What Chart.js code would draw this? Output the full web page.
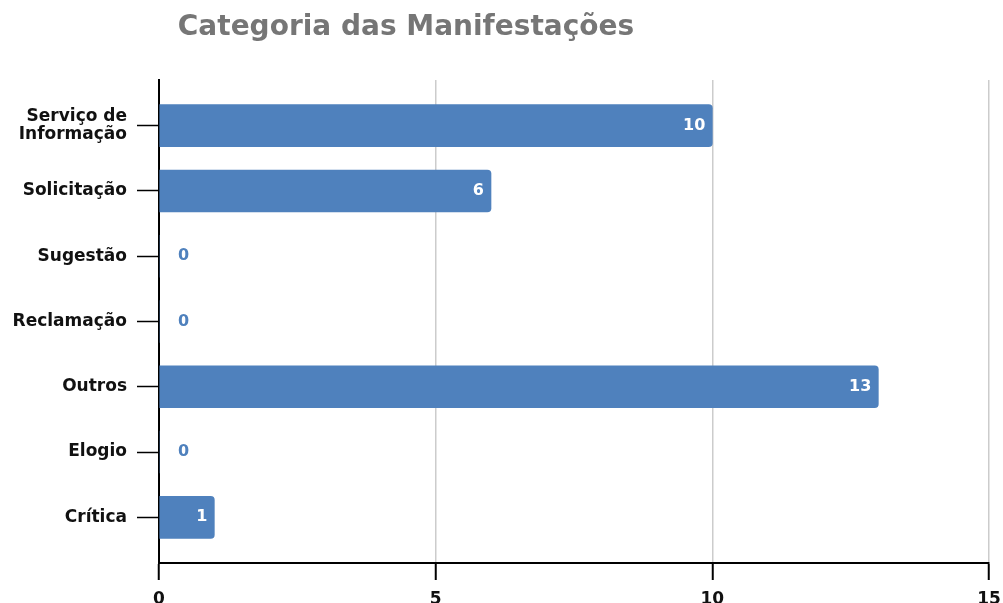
<!DOCTYPE html>
<html>
<head>
<meta charset="utf-8">
<script src="https://cdn.jsdelivr.net/npm/chart.js@4"></script>
<style>
  html, body { margin: 0; padding: 0; background: #ffffff; }
  #wrap { width: 1003px; height: 603px; position: relative; }
</style>
</head>
<body>
<div id="wrap"><canvas id="c"></canvas></div>
<script>
const chartTitle = 'Categoria das Manifestações';
const categories = [['Serviço de', 'Informação'], 'Solicitação', 'Sugestão', 'Reclamação', 'Outros', 'Elogio', 'Crítica'];
const values = [10, 6, 0, 0, 13, 0, 1];
const xTicks = [0, 5, 10, 15];

const FONT = '"DejaVu Sans", Verdana, sans-serif';
const BLUE = '#4f81bd';

const titlePlugin = {
  id: 'customTitle',
  afterDraw(chart) {
    const ctx = chart.ctx;
    ctx.save();
    ctx.font = 'bold 28px ' + FONT;
    ctx.fillStyle = '#767676';
    ctx.textAlign = 'center';
    ctx.textBaseline = 'middle';
    ctx.fillText(chartTitle, 406, 28);
    ctx.restore();
  }
};

const valueLabels = {
  id: 'valueLabels',
  afterDatasetsDraw(chart) {
    const ctx = chart.ctx;
    const meta = chart.getDatasetMeta(0);
    ctx.save();
    ctx.font = 'bold 16px ' + FONT;
    ctx.textBaseline = 'middle';
    meta.data.forEach((bar, i) => {
      const v = values[i];
      if (v > 0) {
        ctx.fillStyle = '#ffffff';
        ctx.textAlign = 'right';
        ctx.fillText(String(v), bar.x - 7, bar.y);
      } else {
        ctx.fillStyle = BLUE;
        ctx.textAlign = 'left';
        ctx.fillText(String(v), bar.x + 19, bar.y);
      }
    });
    ctx.restore();
  }
};

new Chart(document.getElementById('c'), {
  type: 'bar',
  data: {
    datasets: [{
      data: values.map((v, i) => ({ x: v, y: i })),
      backgroundColor: BLUE,
      borderWidth: 0,
      borderRadius: 4,
      barThickness: 42
    }]
  },
  options: {
    indexAxis: 'y',
    responsive: true,
    maintainAspectRatio: false,
    animation: false,
    layout: { padding: { top: 80, right: 14, left: 0, bottom: 0 } },
    plugins: {
      legend: { display: false },
      title: { display: false },
      tooltip: { enabled: false }
    },
    scales: {
      y: {
        type: 'linear',
        min: -0.7,
        max: 6.7,
        reverse: true,
        offset: false,
        afterBuildTicks(axis) {
          axis.ticks = categories.map((c, i) => ({ value: i }));
        },
        afterFit(axis) { axis.width = 159; axis.paddingTop = 0; axis.paddingBottom = 0; },
        ticks: {
          autoSkip: false,
          padding: 10,
          color: '#111111',
          font: { family: FONT, size: 17, weight: 'bold', lineHeight: 1.05 },
          callback: (v) => categories[v]
        },
        grid: {
          offset: false,
          drawOnChartArea: false,
          drawTicks: true,
          tickLength: 22,
          tickColor: '#000000',
          tickWidth: 1.5
        },
        border: { display: true, color: '#000000', width: 2 }
      },
      x: {
        type: 'linear',
        min: 0,
        max: 15,
        afterBuildTicks(axis) {
          axis.ticks = xTicks.map(v => ({ value: v }));
        },
        afterFit(axis) { axis.height = 40; axis.paddingRight = 0; axis.paddingLeft = 0; },
        ticks: {
          padding: 9,
          color: '#111111',
          font: { family: FONT, size: 17, weight: 'bold' }
        },
        grid: {
          color: '#cccccc',
          lineWidth: 1.5,
          drawTicks: true,
          tickLength: 17,
          tickColor: '#000000',
          tickWidth: 2
        },
        border: { display: true, color: '#000000', width: 2 }
      }
    }
  },
  plugins: [titlePlugin, valueLabels]
});
</script>
</body>
</html>
